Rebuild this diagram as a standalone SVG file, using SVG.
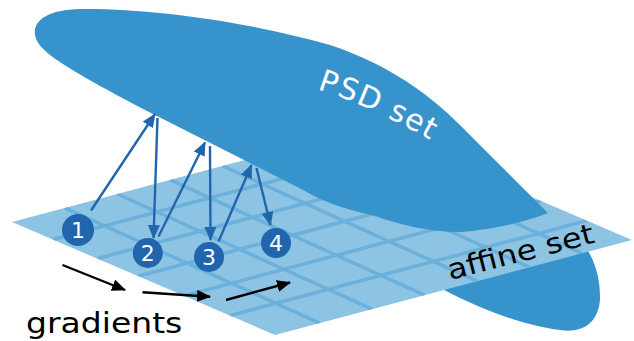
<svg xmlns="http://www.w3.org/2000/svg" width="634" height="341" viewBox="0 0 634 341">
<style>
.blob{fill:#3793cb}
.plane{fill:#8dc4e3}
.grid line{stroke:#6bb1dc;stroke-width:3.5}
.barr{stroke:#2166ac;stroke-width:2.4;fill:none;marker-end:url(#hb)}
.karr{stroke:#000;stroke-width:2.4;fill:none;marker-end:url(#hk)}
.node circle{fill:#2166ac}
.node text{fill:#fff;font-family:"DejaVu Sans",sans-serif;font-size:22px;text-anchor:middle}
.lbl{font-family:"DejaVu Sans",sans-serif;font-size:28px}
</style>
<defs>
<marker id="hb" markerUnits="userSpaceOnUse" viewBox="0 0 14 12" refX="13" refY="6" markerWidth="14" markerHeight="12" orient="auto"><path d="M0,0 L14,6 L0,12 Z" fill="#2166ac"/></marker>
<marker id="hk" markerUnits="userSpaceOnUse" viewBox="0 0 14 12" refX="13" refY="6" markerWidth="14" markerHeight="12" orient="auto"><path d="M0,0 L14,6 L0,12 Z" fill="#000"/></marker>
<clipPath id="pc"><polygon points="12,222 275,335 632,240 369,127"/></clipPath>
</defs>
<g id="psd-lower">
<path class="blob" d="M435,285 C470,305 520,325 560,330 C585,334 600,320 600,297 C600,280 596,262 585,246 L500,262 Z"/>
</g>
<g id="affine-set">
<polygon class="plane" points="12,222 275,335 632,240 369,127"/>
<g class="grid" clip-path="url(#pc)">
<line x1="64.8" y1="207.9" x2="319.6" y2="323.1"/>
<line x1="117.3" y1="194" x2="372.1" y2="309.2"/>
<line x1="170.2" y1="179.9" x2="424.6" y2="295.2"/>
<line x1="222.6" y1="166" x2="477" y2="281.2"/>
<line x1="275.5" y1="151.9" x2="529.5" y2="267.3"/>
<line x1="328.3" y1="137.8" x2="582" y2="253.3"/>
<line x1="53" y1="239.6" x2="410" y2="144.6"/>
<line x1="97.2" y1="258.6" x2="454.2" y2="163.6"/>
<line x1="138" y1="276.2" x2="495" y2="181.2"/>
<line x1="184" y1="295.9" x2="541" y2="200.9"/>
<line x1="229.8" y1="315.6" x2="586.8" y2="220.6"/>
</g>
<text class="lbl" transform="translate(450,280) rotate(-14.5) scale(1.15,1)">affine set</text>
</g>
<g id="psd-set">
<path class="blob" d="M35,35 C33,20 48,10 80,9 C150,8 250,22 330,45 C390,65 430,95 460,125 C490,155 520,185 548,213 C530,220 500,229 460,232 C430,232 400,225 375,216 C340,208 320,200 305,191 L250,163 L155,115 C110,92 70,70 50,55 C40,47 36,41 35,35 Z"/>
<text class="lbl" fill="#fff" font-size="30" style="font-size:30px" x="317 336.2 355.3 371 387.2 402.3 419.8" y="89 95.6 103.1 110 117.4 124.9 134.2" rotate="19 20.7 22.5 24 25.6 27.1 28.9">PSD set</text>
</g>
<g id="connectors">
<line class="barr" x1="91" y1="210.5" x2="155" y2="114"/>
<line class="barr" x1="157.5" y1="118" x2="153.5" y2="238"/>
<line class="barr" x1="158.5" y1="236.5" x2="205" y2="142.5"/>
<line class="barr" x1="210" y1="146" x2="210.5" y2="240"/>
<line class="barr" x1="218.5" y1="241.5" x2="251.5" y2="165"/>
<line class="barr" x1="256.5" y1="168" x2="270.5" y2="225"/>
<line class="karr" x1="62.5" y1="265" x2="125" y2="290"/>
<line class="karr" x1="142.5" y1="292.3" x2="210" y2="296.7"/>
<line class="karr" x1="226" y1="300" x2="290" y2="282.5"/>
</g>
<g id="node1" class="node"><circle cx="78" cy="230" r="16"/><text x="78" y="238">1</text></g>
<g id="node2" class="node"><circle cx="147.8" cy="253" r="15"/><text x="147.8" y="261">2</text></g>
<g id="node3" class="node"><circle cx="209" cy="257" r="15"/><text x="209" y="265">3</text></g>
<g id="node4" class="node"><circle cx="276" cy="243" r="15"/><text x="276" y="251">4</text></g>
<g id="gradients-label"><text class="lbl" transform="translate(26,333) scale(1.18,1)">gradients</text></g>
</svg>
